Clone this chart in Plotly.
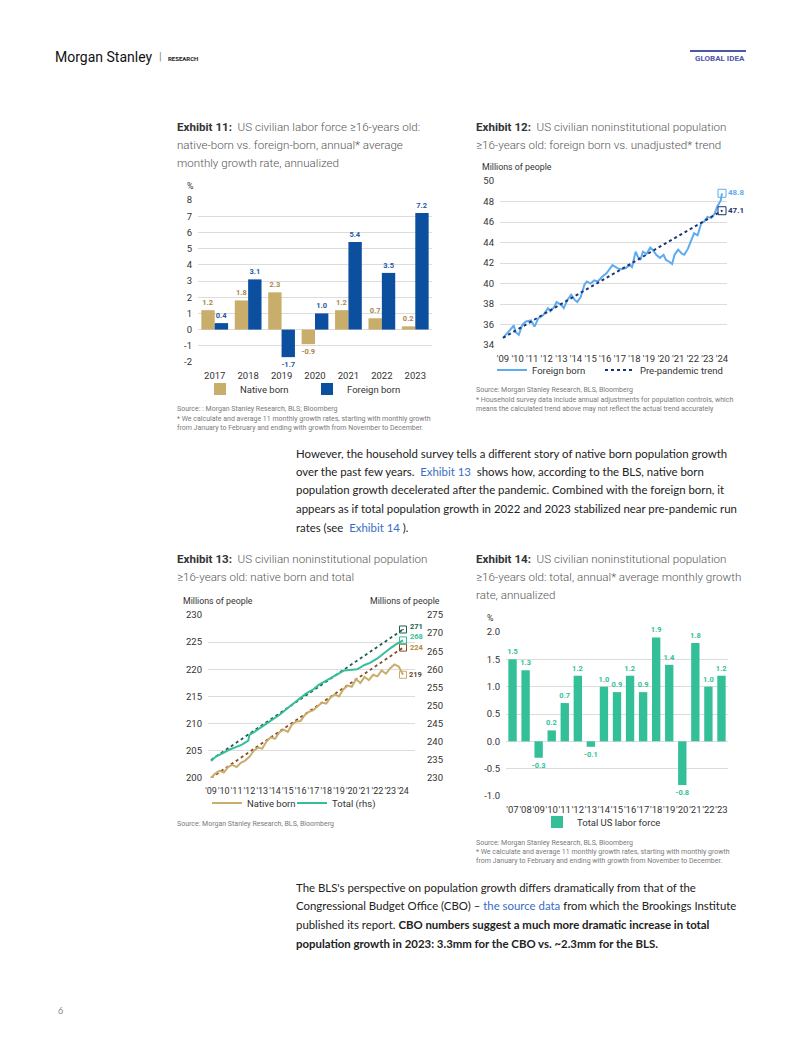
import plotly.graph_objects as go

W, H = 802, 1037


def px(x):
    return x / W


def py(y):
    return 1 - y / H


# ---------------- DATA ----------------
# Exhibit 11
ex11_years = ["2017", "2018", "2019", "2020", "2021", "2022", "2023"]
ex11_native = [1.2, 1.8, 2.3, -0.9, 1.2, 0.7, 0.2]
ex11_foreign = [0.4, 3.1, -1.7, 1.0, 5.4, 3.5, 7.2]
ex11_ticks = [-2, -1, 0, 1, 2, 3, 4, 5, 6, 7, 8]

# Exhibit 12 (millions of people)
ex12_dates = ["2009-01", "2009-04", "2009-08", "2009-10", "2009-11", "2010-02", "2010-05", "2010-08",
              "2010-12", "2011-03", "2011-06", "2011-10", "2012-02", "2012-04", "2012-07", "2012-09",
              "2013-01", "2013-03", "2013-06", "2013-09", "2013-12", "2014-02", "2014-05", "2014-08",
              "2014-10", "2015-01", "2015-04", "2015-07", "2015-11", "2016-02", "2016-04", "2016-07",
              "2016-11", "2017-02", "2017-06", "2017-09", "2017-11", "2018-02", "2018-04", "2018-06",
              "2018-08", "2018-11", "2019-02", "2019-04", "2019-07", "2019-10", "2020-01", "2020-03",
              "2020-06", "2020-08", "2020-10", "2021-01", "2021-04", "2021-06", "2021-09", "2021-12",
              "2022-02", "2022-05", "2022-08", "2022-10", "2023-01", "2023-04", "2023-07", "2023-09",
              "2023-12", "2024-01"]
ex12_foreign = [34.7, 35.1, 35.6, 35.9, 35.3, 35.0, 36.0, 36.3,
                36.4, 35.8, 36.6, 36.9, 37.6, 37.3, 37.7, 38.2,
                37.9, 37.6, 38.4, 38.9, 38.4, 38.2, 38.7, 39.9,
                40.2, 40.0, 40.3, 40.2, 40.7, 41.0, 41.3, 41.8,
                41.5, 41.4, 41.5, 41.8, 41.6, 43.1, 42.6, 42.3,
                43.1, 42.9, 43.5, 43.3, 42.8, 42.5, 42.8, 42.3,
                42.1, 41.9, 42.8, 43.3, 42.9, 42.8, 43.4, 44.4,
                44.9, 44.7, 45.9, 46.0, 46.5, 46.4, 46.8, 47.5,
                48.1, 48.8]
ex12_trend_dates = ["2009-01", "2024-01"]
ex12_trend = [34.7, 47.1]

# Exhibit 13
ex13_total_dates = ["2009-01", "2009-06", "2010-01", "2010-06", "2011-01", "2011-06", "2011-12",
                    "2012-01", "2012-06", "2013-01", "2013-06", "2014-01", "2014-06", "2015-01",
                    "2015-06", "2016-01", "2016-06", "2017-01", "2017-06", "2018-01", "2018-06",
                    "2019-01", "2019-06", "2020-01", "2020-06", "2021-01", "2021-06", "2022-01",
                    "2022-06", "2023-01", "2023-06", "2024-01"]
ex13_total = [234.7, 236.0, 237.0, 237.8, 238.6, 239.2, 240.3,
              241.9, 242.8, 244.2, 245.3, 246.5, 247.6, 249.3,
              250.4, 252.0, 253.3, 254.5, 255.7, 256.9, 257.8,
              258.9, 259.7, 259.8, 260.0, 261.2, 261.8, 263.0,
              264.2, 265.8, 266.8, 268.0]
ex13_native_dates = ["2009-01", "2009-05", "2009-09", "2010-01", "2010-05", "2010-09", "2011-01",
                     "2011-05", "2011-09", "2012-01", "2012-05", "2012-09", "2013-01", "2013-05",
                     "2013-09", "2014-01", "2014-05", "2014-09", "2015-01", "2015-05", "2015-09",
                     "2016-01", "2016-05", "2016-09", "2017-01", "2017-05", "2017-09", "2018-01",
                     "2018-05", "2018-09", "2019-01", "2019-05", "2019-09", "2020-01", "2020-05",
                     "2020-09", "2021-01", "2021-05", "2021-09", "2022-01", "2022-05", "2022-09",
                     "2023-01", "2023-05", "2023-09", "2024-01"]
ex13_native = [200.0, 200.8, 201.3, 201.0, 202.0, 202.4, 202.0,
               202.8, 203.2, 203.9, 205.0, 205.6, 205.4, 206.7,
               207.5, 207.2, 208.4, 208.9, 208.5, 209.8, 210.4,
               210.5, 211.6, 212.2, 212.5, 213.2, 213.9, 213.7,
               214.8, 215.4, 215.0, 216.3, 217.0, 216.8, 218.2,
               217.5, 218.6, 218.0, 219.0, 218.7, 219.8, 219.2,
               220.2, 220.9, 220.5, 219.0]
ex13_trend_dates = ["2009-01", "2024-01"]
ex13_total_trend = [235.0, 271.0]
ex13_native_trend = [200.0, 224.0]

# Exhibit 14
ex14_years = ["'07", "'08", "'09", "'10", "'11", "'12", "'13", "'14", "'15", "'16", "'17",
              "'18", "'19", "'20", "'21", "'22", "'23"]
ex14_total = [1.5, 1.3, -0.3, 0.2, 0.7, 1.2, -0.1, 1.0, 0.9, 1.2, 0.9, 1.9, 1.4, -0.8, 1.8, 1.0, 1.2]
ex14_ticks = [-1.0, -0.5, 0.0, 0.5, 1.0, 1.5, 2.0]

# ---------------- STYLE ----------------
FONT = "Roboto"
TXT = "#333333"
GRID = "#dcdcdc"
TAN = "#c9ad6b"
TAN_TXT = "#a8894a"
BLUE = "#0b4f9e"
LBLUE = "#5eacf0"
NAVY = "#1c3574"
TEAL = "#33bf98"
DKTEAL = "#1e5e4f"
BROWN = "#8a4b2a"

fig = go.Figure()

# ---- Exhibit 11 ----
fig.add_trace(go.Bar(
    x=ex11_years, y=ex11_native, name="Native born", marker_color=TAN,
    width=0.4, offset=-0.4, text=[f"{v:.1f}" for v in ex11_native], textposition="outside",
    constraintext="none", cliponaxis=False,
    textfont=dict(color=TAN_TXT, size=7.5, family=FONT, weight="bold"),
    xaxis="x", yaxis="y", legend="legend"))
fig.add_trace(go.Bar(
    x=ex11_years, y=ex11_foreign, name="Foreign born", marker_color=BLUE,
    width=0.4, offset=0.0, text=[f"{v:.1f}" for v in ex11_foreign], textposition="outside",
    constraintext="none", cliponaxis=False,
    textfont=dict(color="#1d5aa8", size=7.5, family=FONT, weight="bold"),
    xaxis="x", yaxis="y", legend="legend5"))

# ---- Exhibit 12 ----
fig.add_trace(go.Scatter(
    x=ex12_dates, y=ex12_foreign, mode="lines", name="Foreign born",
    line=dict(color=LBLUE, width=2), xaxis="x2", yaxis="y2", legend="legend2"))
fig.add_trace(go.Scatter(
    x=ex12_trend_dates, y=ex12_trend, mode="lines", name="Pre-pandemic trend",
    line=dict(color=NAVY, width=2, dash="dot"), xaxis="x2", yaxis="y2", legend="legend6"))
fig.add_trace(go.Scatter(
    x=[ex12_dates[-1]], y=[ex12_foreign[-1]], mode="markers+text",
    marker=dict(symbol="square-open", size=8, color=LBLUE, line=dict(width=1)),
    text=[f"{ex12_foreign[-1]:.1f}"], textposition="middle right",
    textfont=dict(color=LBLUE, size=8, family=FONT, weight="bold"),
    cliponaxis=False, showlegend=False, xaxis="x2", yaxis="y2"))
fig.add_trace(go.Scatter(
    x=[ex12_trend_dates[-1]], y=[ex12_trend[-1]], mode="markers+text",
    marker=dict(symbol="square-open-dot", size=8, color=NAVY, line=dict(width=1)),
    text=[f"{ex12_trend[-1]:.1f}"], textposition="middle right",
    textfont=dict(color=NAVY, size=8, family=FONT, weight="bold"),
    cliponaxis=False, showlegend=False, xaxis="x2", yaxis="y2"))

# ---- Exhibit 13 ----
fig.add_trace(go.Scatter(
    x=ex13_trend_dates, y=ex13_native_trend, mode="lines", showlegend=False,
    line=dict(color=BROWN, width=1.8, dash="dot"), xaxis="x3", yaxis="y3"))
fig.add_trace(go.Scatter(
    x=ex13_native_dates, y=ex13_native, mode="lines", name="Native born",
    line=dict(color=TAN, width=2), xaxis="x3", yaxis="y3", legend="legend3"))
fig.add_trace(go.Scatter(
    x=ex13_trend_dates, y=ex13_total_trend, mode="lines", showlegend=False,
    line=dict(color=DKTEAL, width=1.8, dash="dot"), xaxis="x3", yaxis="y4"))
fig.add_trace(go.Scatter(
    x=ex13_total_dates, y=ex13_total, mode="lines", name="Total (rhs)",
    line=dict(color=TEAL, width=2), xaxis="x3", yaxis="y4", legend="legend7"))
fig.add_trace(go.Scatter(
    x=[ex13_trend_dates[-1], ex13_total_dates[-1]], y=[ex13_total_trend[-1], ex13_total[-1]],
    mode="markers", marker=dict(symbol=["square-open-dot", "square-open"], size=7,
                                color=[DKTEAL, TEAL], line=dict(width=1)),
    cliponaxis=False, showlegend=False, xaxis="x3", yaxis="y4"))
fig.add_trace(go.Scatter(
    x=[ex13_trend_dates[-1], ex13_native_dates[-1]], y=[ex13_native_trend[-1], ex13_native[-1]],
    mode="markers", marker=dict(symbol="square-open", size=7, color=[BROWN, TAN], line=dict(width=1)),
    cliponaxis=False, showlegend=False, xaxis="x3", yaxis="y3"))

# ---- Exhibit 14 ----
fig.add_trace(go.Bar(
    x=ex14_years, y=ex14_total, name="Total US labor force", marker_color=TEAL,
    width=0.64, offset=-0.32, text=[f"{v:.1f}" for v in ex14_total], textposition="outside",
    constraintext="none", cliponaxis=False,
    textfont=dict(color=TEAL, size=7.5, family=FONT, weight="bold"),
    xaxis="x5", yaxis="y5", legend="legend4"))

# ---------------- AXES ----------------
tickf = dict(family=FONT, size=9.5, color=TXT)
common_y = dict(showgrid=True, gridcolor=GRID, gridwidth=1, zeroline=False, showline=False,
                ticks="", tickfont=tickf, ticklabelstandoff=5, fixedrange=True, automargin=False)
common_x = dict(showgrid=False, zeroline=False, showline=False, ticks="", tickfont=tickf,
                fixedrange=True, tickangle=0, automargin=False, ticklabelstandoff=6)

fig.update_layout(
    xaxis=dict(domain=[px(198), px(432)], anchor="y", type="category", **common_x),
    yaxis=dict(domain=[py(362), py(200)], anchor="x", range=[-2, 8], tickvals=ex11_ticks,
               ticktext=[str(v) for v in ex11_ticks], **common_y),
    xaxis2=dict(domain=[px(500), px(727)], anchor="y2", type="date",
                range=["2008-10-18", "2024-05-05"], tick0="2009-01-01", dtick="M12",
                tickformat="'%y", **common_x),
    yaxis2=dict(domain=[py(345), py(181)], anchor="x2", range=[34, 50], dtick=2, **common_y),
    xaxis3=dict(domain=[px(208), px(415)], anchor="y3", type="date",
                range=["2008-10-07", "2024-12-08"], tick0="2009-01-01", dtick="M12",
                tickformat="'%y", **common_x),
    yaxis3=dict(domain=[py(778), py(615)], anchor="x3", range=[200, 230], dtick=5, **common_y),
    yaxis4=dict(overlaying="y3", side="right", anchor="x3", range=[230, 275], dtick=5,
                showgrid=False, zeroline=False, showline=False, ticks="", tickfont=tickf,
                ticklabelstandoff=11, fixedrange=True, automargin=False),
    xaxis5=dict(domain=[px(506), px(728)], anchor="y5", type="category", **common_x),
    yaxis5=dict(domain=[py(796), py(632)], anchor="x5", range=[-1.0, 2.0], tickvals=ex14_ticks,
                ticktext=[f"{v:.1f}" for v in ex14_ticks], **common_y),
)
fig.update_xaxes(selector=dict(anchor="y3"), tickfont=dict(family=FONT, size=9, color=TXT))

# ---------------- LEGENDS (one entry each, placed like the reference) ----------------
leg_common = dict(orientation="h", xanchor="left", yanchor="middle", bgcolor="rgba(0,0,0,0)",
                  font=dict(family=FONT, size=9.5, color=TXT), itemclick=False,
                  itemdoubleclick=False, tracegroupgap=0)
fig.update_layout(
    showlegend=True,
    legend=dict(x=px(200), y=py(389), **leg_common),
    legend5=dict(x=px(307), y=py(389), **leg_common),
    legend2=dict(x=px(492), y=py(370), **leg_common),
    legend6=dict(x=px(600), y=py(370), **leg_common),
    legend3=dict(x=px(207), y=py(803), **leg_common),
    legend7=dict(x=px(292), y=py(803), **leg_common),
    legend4=dict(x=px(537), y=py(822), **leg_common),
)

# ---------------- TEXT ----------------
ann = []


def text(x, y, s, size=10, color=TXT, family=FONT, anchor="left", weight=None):
    f = dict(size=size, color=color, family=family)
    if weight:
        f["weight"] = weight
    ann.append(dict(x=px(x), y=py(y), xref="paper", yref="paper", text=s, showarrow=False,
                    xanchor=anchor, yanchor="middle", font=f, borderpad=0))


def dtext(xref, yref, x, y, s, color, xshift=4, yshift=0):
    ann.append(dict(x=x, y=y, xref=xref, yref=yref, text=s, showarrow=False,
                    xanchor="left", yanchor="middle", xshift=xshift, yshift=yshift, borderpad=0,
                    font=dict(size=7.5, color=color, family=FONT, weight="bold")))


TITLE_C = "#555555"
EXB = "#333333"
ts = 11.6

# Header
text(54, 57, "Morgan Stanley", size=14, color="#111111", family="Roboto")
text(158, 57, "|", size=11, color="#888888")
text(167, 58, "<b>RESEARCH</b>", size=6, color="#222222")
text(746, 58, "<b>GLOBAL IDEA</b>", size=8, color="#4b58a6", anchor="right")
fig.add_shape(type="line", xref="paper", yref="paper", x0=px(690), x1=px(746), y0=py(51),
              y1=py(51), line=dict(color="#4b58a6", width=2))

# Exhibit titles
text(176, 127, f"<b><span style='color:{EXB}'>Exhibit 11:</span></b>  US civilian labor force ≥16-years old:", ts, TITLE_C, weight=300)
text(176, 145, "native-born vs. foreign-born, annual* average", ts, TITLE_C, weight=300)
text(176, 163, "monthly growth rate, annualized", ts, TITLE_C, weight=300)

text(475, 127, f"<b><span style='color:{EXB}'>Exhibit 12:</span></b>  US civilian noninstitutional population", ts, TITLE_C, weight=300)
text(475, 145, "≥16-years old: foreign born vs. unadjusted* trend", ts, TITLE_C, weight=300)

text(176, 559, f"<b><span style='color:{EXB}'>Exhibit 13:</span></b>  US civilian noninstitutional population", ts, TITLE_C, weight=300)
text(176, 577, "≥16-years old: native born and total", ts, TITLE_C, weight=300)

text(475, 559, f"<b><span style='color:{EXB}'>Exhibit 14:</span></b>  US civilian noninstitutional population", ts, TITLE_C, weight=300)
text(475, 577, "≥16-years old: total, annual* average monthly growth", ts, TITLE_C, weight=300)
text(475, 595, "rate, annualized", ts, TITLE_C, weight=300)

# axis unit labels
us = 8.8
text(186, 186, "%", us)
text(481, 167, "Millions of people", us)
text(182, 601, "Millions of people", us)
text(441, 601, "Millions of people", us, anchor="right")
text(486, 618, "%", us)

# sources
SRC = "#7a7a7a"
ss = 7
text(176, 409, "Source: : Morgan Stanley Research, BLS; Bloomberg", ss, SRC)
text(176, 419, "* We calculate and average 11 monthly growth rates, starting with monthly growth", ss, SRC)
text(176, 428, "from January to February and ending with growth from November to December.", ss, SRC)

text(475, 390, "Source: Morgan Stanley Research, BLS, Bloomberg", ss, SRC)
text(475, 400, "* Household survey data include annual adjustments for population controls, which", ss, SRC)
text(475, 409, "means the calculated trend above may not reflect the actual trend accurately", ss, SRC)

text(176, 824, "Source: Morgan Stanley Research, BLS, Bloomberg", ss, SRC)

text(475, 843, "Source: Morgan Stanley Research, BLS, Bloomberg", ss, SRC)
text(475, 852, "* We calculate and average 11 monthly growth rates, starting with monthly growth", ss, SRC)
text(475, 861, "from January to February and ending with growth from November to December.", ss, SRC)

# end labels exhibit 13
dtext("x3", "y4", ex13_trend_dates[-1], ex13_total_trend[-1], f"{ex13_total_trend[-1]:.0f}", DKTEAL, xshift=6, yshift=3)
dtext("x3", "y4", ex13_total_dates[-1], ex13_total[-1], f"{ex13_total[-1]:.0f}", TEAL, xshift=6, yshift=4)
dtext("x3", "y3", ex13_trend_dates[-1], ex13_native_trend[-1], f"{ex13_native_trend[-1]:.0f}", "#b08a3e", xshift=6)
dtext("x3", "y3", ex13_native_dates[-1], ex13_native[-1], f"{ex13_native[-1]:.0f}", "#5a4a30", xshift=5)

# Body paragraphs
BODY = "Lato"
bs = 11.4
BC = "#222222"
LINK = "#3a6cc2"
p1 = [
    "However, the household survey tells a different story of native born population growth",
    f"over the past few years.  <span style='color:{LINK}'>Exhibit 13</span>  shows how, according to the BLS, native born",
    "population growth decelerated after the pandemic. Combined with the foreign born, it",
    "appears as if total population growth in 2022 and 2023 stabilized near pre-pandemic run",
    f"rates (see  <span style='color:{LINK}'>Exhibit 14</span> ).",
]
for i, line in enumerate(p1):
    text(295, 453 + i * 18.5, line, bs, BC, BODY)

p2 = [
    "The BLS's perspective on population growth differs dramatically from that of the",
    f"Congressional Budget Office (CBO) – <span style='color:{LINK}'>the source data</span> from which the Brookings Institute",
    "published its report. <b>CBO numbers suggest a much more dramatic increase in total</b>",
    "<b>population growth in 2023: 3.3mm for the CBO vs. ~2.3mm for the BLS.</b>",
]
for i, line in enumerate(p2):
    text(295, 887 + i * 18.7, line, bs, BC, BODY)

text(57, 1010, "6", 9, "#888888", BODY)

fig.update_layout(
    template="none",
    annotations=ann,
    width=W, height=H, autosize=False,
    margin=dict(l=0, r=0, t=0, b=0, pad=0, autoexpand=False),
    paper_bgcolor="white", plot_bgcolor="white",
    barmode="overlay",
    font=dict(family=FONT, color=TXT),
)

fig.write_html("out.html", config={"displayModeBar": False},
               post_script="document.body.style.margin='0';document.body.style.overflow='hidden';")
